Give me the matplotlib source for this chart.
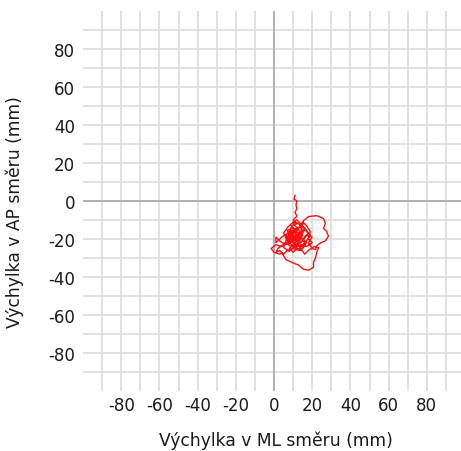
import matplotlib.pyplot as plt

# ML (x) and AP (y) sway path, mm
sway_x = [11.0, 10.5, 12.0, 11.5, 12.0, 11.0, 12.0, 10.0, 12.0, 9.0, 11.0, 8.0, 13.0, 10.0,
          6.0, 9.0, 13.0, 15.5, 18.1, 22.3, 25.9, 26.9, 25.9, 27.5, 28.5, 26.9, 24.4, 22.3,
          21.8, 20.0, 18.0, 20.0, 17.0, 15.0, 12.0, 9.0, 6.0, 4.0, 1.0, -1.5, 0.0, 3.0,
          4.1, 6.2, 9.3, 13.0, 15.5, 18.1, 20.7, 20.7, 21.8, 22.3, 23.3, 21.0, 18.0, 16.0,
          14.0, 12.0, 10.0, 7.0, 5.0, 7.0, 9.0, 12.0, 14.0, 16.0, 14.0, 11.0, 8.0, 6.0,
          3.0, 1.0, 1.0, 4.0, 7.0, 10.0, 13.0, 15.0, 17.0, 19.0, 18.0, 20.0, 17.0, 14.0,
          13.0, 10.0, 7.0, 5.0, 3.0, 1.0, 2.0, 5.0, 8.0, 10.0, 13.0, 15.0, 17.0, 15.0,
          12.0, 10.0, 8.0, 11.0, 13.0, 11.0, 10.0, 13.0, 15.0, 12.0, 9.0, 11.0, 14.0, 16.0,
          18.0, 16.0, 14.0, 12.0, 9.0, 7.0, 9.0, 12.0, 10.0, 8.0, 11.0, 14.0, 17.0, 19.0,
          16.0, 13.0, 11.0, 9.0, 12.0, 10.0, 7.0, 8.5, 11.0, 13.5, 12.0, 9.5, 6.5, 5.0,
          8.0, 10.5, 14.0, 16.5, 15.0, 12.5, 10.0, 7.5, 9.0, 12.0, 15.0, 13.0, 10.5, 8.0,
          6.0, 9.0, 11.5, 13.0]
sway_y = [3.0, 1.0, 0.0, -2.0, -4.0, -6.0, -8.0, -10.0, -12.0, -13.0, -15.0, -16.0, -17.0, -19.0,
          -18.0, -21.0, -20.0, -10.3, -8.2, -7.7, -9.2, -11.8, -14.4, -15.9, -18.5, -21.0, -22.0, -23.6,
          -25.6, -25.0, -22.0, -19.0, -18.0, -21.0, -23.0, -24.0, -22.0, -24.0, -23.0, -25.0, -27.0, -28.0,
          -27.2, -30.8, -32.3, -33.8, -35.9, -36.4, -34.9, -32.3, -29.7, -27.2, -24.6, -24.0, -26.0, -28.0,
          -25.0, -21.0, -18.0, -20.0, -17.0, -14.0, -12.0, -10.0, -12.0, -15.0, -19.0, -22.0, -20.0, -23.0,
          -21.0, -19.0, -22.0, -19.0, -17.0, -16.0, -14.0, -11.0, -13.0, -16.0, -20.0, -22.0, -24.0, -23.0,
          -26.0, -25.0, -26.0, -28.0, -26.0, -27.0, -25.0, -23.0, -22.0, -20.0, -18.0, -20.0, -22.0, -24.0,
          -24.0, -22.0, -18.0, -16.0, -15.0, -13.0, -11.0, -12.0, -16.0, -19.0, -19.0, -21.0, -22.0, -19.0,
          -17.0, -14.0, -13.0, -15.0, -14.0, -19.0, -23.0, -25.0, -27.0, -25.0, -22.0, -24.0, -21.0, -18.0,
          -15.0, -17.0, -20.0, -18.0, -16.0, -14.0, -15.5, -18.5, -17.0, -20.5, -23.5, -21.5, -20.0, -24.5,
          -26.5, -24.0, -26.0, -23.0, -20.0, -18.0, -21.0, -19.5, -16.5, -14.5, -18.0, -21.5, -20.0, -22.5,
          -19.0, -17.5, -19.5, -17.0]

grid_ticks = list(range(-90, 100, 10))
tick_labels = [str(v) if v % 20 == 0 else '' for v in grid_ticks]

fig = plt.figure(figsize=(4.61, 4.52), dpi=100)
ax = fig.add_axes([83 / 461, 60 / 452, 382 / 461, 380 / 452])

ax.set_xlim(-100, 100)
ax.set_ylim(-100, 100)
ax.set_xticks(grid_ticks)
ax.set_yticks(grid_ticks)
ax.set_xticklabels(tick_labels)
ax.set_yticklabels(tick_labels)
ax.tick_params(length=0, labelsize=12, colors='#1a1a1a')
ax.tick_params(axis='x', pad=3.6)
ax.tick_params(axis='y', pad=5.5)
for s in ax.spines.values():
    s.set_visible(False)
ax.grid(True, color='#dedede', lw=1.3)
ax.set_axisbelow(True)
ax.axhline(0, color='#a8a8a8', lw=1.2, zorder=1)
ax.axvline(0, color='#a8a8a8', lw=1.2, zorder=1)

ax.plot(sway_x, sway_y, color='#ff1010', lw=1.0, zorder=3)

fig.text(276 / 461, 1 - 441 / 452, 'Výchylka v ML směru (mm)', ha='center', va='center',
         fontsize=12.3, color='#1a1a1a')
fig.text(15 / 461, 1 - 212 / 452, 'Výchylka v AP směru (mm)', ha='center', va='center',
         rotation=90, fontsize=12.3, color='#1a1a1a')

fig.savefig('out.png', dpi=100)
